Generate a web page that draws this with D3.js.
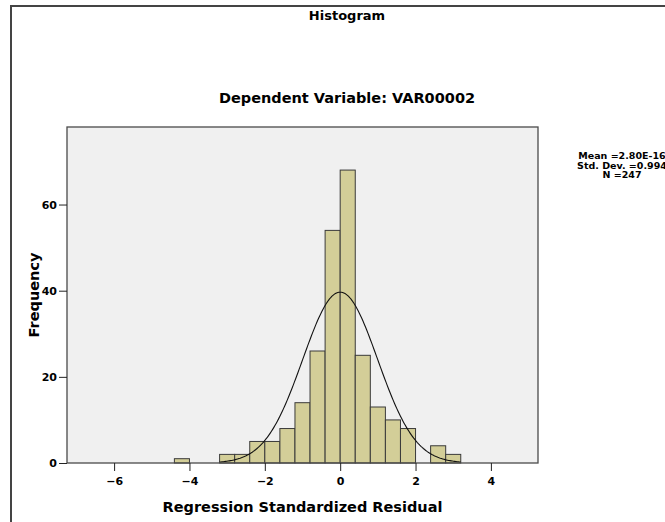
<!DOCTYPE html>
<html>
<head>
<meta charset="utf-8">
<script src="https://cdn.jsdelivr.net/npm/d3@7"></script>
<style>
  html, body { margin: 0; padding: 0; background: #fff; }
  svg text { font-family: "DejaVu Sans", "Liberation Sans", Arial, sans-serif; font-weight: bold; fill: #000; }
</style>
</head>
<body>
<svg id="chart" width="665" height="522"></svg>
<script>
// ---- data ----
const binStarts = [-4.4, -3.2, -2.8, -2.4, -2.0, -1.6, -1.2, -0.8, -0.4, 0.0, 0.4, 0.8, 1.2, 1.6, 2.4, 2.8];
const binCounts = [1, 2, 2, 5, 5, 8, 14, 26, 54, 68, 25, 13, 10, 8, 4, 2];
const binWidth = 0.4;
const xTicks = [-6, -4, -2, 0, 2, 4];
const yTicks = [0, 20, 40, 60];
const statsLines = ["Mean =2.80E-16", "Std. Dev. =0.994", "N =247"];
const meanVal = 2.80e-16, sdVal = 0.994, nVal = 247;
const curveRange = [-3.2, 3.2];

const FONT = "'DejaVu Sans', 'Liberation Sans', Arial, sans-serif";
const svg = d3.select("#chart");
const plot = { left: 67, top: 127, right: 538, bottom: 463 };

// outer frame (extends past right/bottom of picture)
svg.append("rect").attr("x", 11).attr("y", 6).attr("width", 720).attr("height", 600)
  .attr("fill", "none").attr("stroke", "#444").attr("stroke-width", 2);

const x = d3.scaleLinear().domain([-7.25, 5.25]).range([plot.left, plot.right]);
const y = d3.scaleLinear().domain([0, 78]).range([plot.bottom, plot.top]);

// plot background
svg.append("rect").attr("x", plot.left).attr("y", plot.top)
  .attr("width", plot.right - plot.left).attr("height", plot.bottom - plot.top)
  .attr("fill", "#f0f0f0");

// bars
svg.append("g").selectAll("rect").data(binStarts.map((s, i) => ({ s, c: binCounts[i] })))
  .join("rect")
  .attr("x", d => x(d.s))
  .attr("y", d => y(d.c))
  .attr("width", d => x(d.s + binWidth) - x(d.s))
  .attr("height", d => y(0) - y(d.c))
  .attr("fill", "#d3ce98").attr("stroke", "#3a3a3a").attr("stroke-width", 1);

// normal curve
const pts = d3.range(0, 201).map(i => {
  const v = curveRange[0] + (curveRange[1] - curveRange[0]) * i / 200;
  const pdf = Math.exp(-0.5 * Math.pow((v - meanVal) / sdVal, 2)) / (sdVal * Math.sqrt(2 * Math.PI));
  return [v, nVal * binWidth * pdf];
});
svg.append("path").datum(pts)
  .attr("d", d3.line().x(d => x(d[0])).y(d => y(d[1])))
  .attr("fill", "none").attr("stroke", "#111").attr("stroke-width", 1.1);

// plot border
svg.append("rect").attr("x", plot.left).attr("y", plot.top)
  .attr("width", plot.right - plot.left).attr("height", plot.bottom - plot.top)
  .attr("fill", "none").attr("stroke", "#4a4a4a").attr("stroke-width", 1.3);

// axes
const xAxis = d3.axisBottom(x).tickValues(xTicks).tickSize(8).tickPadding(6).tickFormat(d3.format("d"));
const gx = svg.append("g").attr("transform", `translate(0,${plot.bottom})`).call(xAxis);
gx.select(".domain").remove();
gx.selectAll("line").attr("stroke", "#222");
gx.selectAll("text").attr("font-size", 11).style("font-family", FONT).style("font-weight", "bold");

const yAxis = d3.axisLeft(y).tickValues(yTicks).tickSize(8).tickPadding(2);
const gy = svg.append("g").attr("transform", `translate(${plot.left},0)`).call(yAxis);
gy.select(".domain").remove();
gy.selectAll("line").attr("stroke", "#222");
gy.selectAll("text").attr("font-size", 11).style("font-family", FONT).style("font-weight", "bold");

// titles
svg.append("text").attr("x", 347).attr("y", 19.5).attr("text-anchor", "middle")
  .attr("font-size", 13).text("Histogram");
svg.append("text").attr("x", 347).attr("y", 103).attr("text-anchor", "middle")
  .attr("font-size", 14.5).text("Dependent Variable: VAR00002");

// axis labels
svg.append("text").attr("x", (plot.left + plot.right) / 2).attr("y", 512).attr("text-anchor", "middle")
  .attr("font-size", 14.5).text("Regression Standardized Residual");
svg.append("text").attr("transform", `translate(38.5,${(plot.top + plot.bottom) / 2}) rotate(-90)`)
  .attr("text-anchor", "middle").attr("font-size", 14.5).text("Frequency");

// stats legend
svg.append("g").selectAll("text").data(statsLines).join("text")
  .attr("x", 622).attr("y", (d, i) => 159 + i * 9.5)
  .attr("text-anchor", "middle").attr("font-size", 9.5)
  .text(d => d);
</script>
</body>
</html>
